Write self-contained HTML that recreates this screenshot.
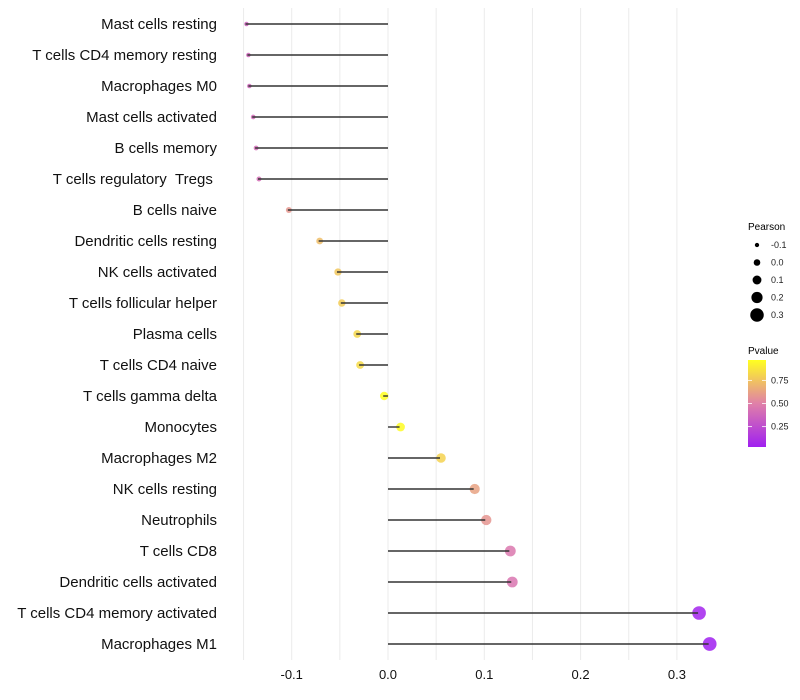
<!DOCTYPE html>
<html><head><meta charset="utf-8"><style>
body{margin:0;background:#fff;}
svg{display:block;font-family:"Liberation Sans",sans-serif;}
</style></head><body>
<svg id="chart" width="800" height="700" viewBox="0 0 800 700">
<defs><linearGradient id="pgrad" x1="0" y1="1" x2="0" y2="0">
<stop offset="0" stop-color="#a020f0"/><stop offset="0.5" stop-color="#e080a8"/><stop offset="1" stop-color="#ffff20"/>
</linearGradient></defs>
<g id="grid"></g>
<g id="points"></g>
<g id="marks"></g>
<g id="ylabels"></g>
<g id="xlabels"></g>
<g id="legend">
<text x="748" y="230" font-size="10">Pearson</text>
<text x="748" y="354" font-size="10">Pvalue</text>
<rect x="748" y="360" width="18" height="87" fill="url(#pgrad)"/>
</g>
</svg>
<script>
const categories = ["Mast cells resting","T cells CD4 memory resting","Macrophages M0","Mast cells activated","B cells memory","T cells regulatory\u00a0\u00a0Tregs\u00a0","B cells naive","Dendritic cells resting","NK cells activated","T cells follicular helper","Plasma cells","T cells CD4 naive","T cells gamma delta","Monocytes","Macrophages M2","NK cells resting","Neutrophils","T cells CD8","Dendritic cells activated","T cells CD4 memory activated","Macrophages M1"];
const pearson = [-0.148,-0.146,-0.145,-0.141,-0.138,-0.135,-0.104,-0.072,-0.053,-0.049,-0.033,-0.030,-0.005,0.012,0.054,0.089,0.101,0.126,0.128,0.322,0.333];
const pvalues = [0.35,0.36,0.36,0.38,0.39,0.40,0.58,0.72,0.76,0.78,0.82,0.83,0.97,0.96,0.80,0.62,0.57,0.45,0.44,0.03,0.01];
const xTicks = [-0.1,0.0,0.1,0.2,0.3];
const xTickLabels = ["-0.1","0.0","0.1","0.2","0.3"];
const xMinor = [-0.15,-0.05,0.05,0.15,0.25];
const sizeLegend = [-0.1,0.0,0.1,0.2,0.3];
const pvalTicks = [0.25,0.50,0.75];

const NS="http://www.w3.org/2000/svg";
const x = v => 388 + v*963;
const y = i => 24 + i*31;
const r = v => Math.sqrt(Math.max(2, 18 + 88*v));
const pY = p => 447 - (p-0.03)/(0.94)*87;
function mix(a,b,t){return a.map((c,i)=>Math.round(c+(b[i]-c)*t));}
function col(p){const t=Math.min(1,Math.max(0,(p-0.01)/0.96));
 const c = t<0.5? mix([160,32,240],[224,128,168],t/0.5) : mix([224,128,168],[255,255,32],(t-0.5)/0.5);
 return `rgb(${c[0]},${c[1]},${c[2]})`;}
function mk(tag,attrs,parent){const e=document.createElementNS(NS,tag);for(const k in attrs)e.setAttribute(k,attrs[k]);parent.appendChild(e);return e;}

const grid=document.getElementById('grid');
xTicks.concat(xMinor).forEach(v=>{
 const l=mk('line',{x1:x(v),x2:x(v),y1:8,y2:660,stroke:'#ebebeb','stroke-width':1},grid);
 
 
});
const xl=document.getElementById('xlabels');
xTicks.forEach((v,i)=>{
 const t=mk('text',{x:x(v),y:679,'font-size':13,'text-anchor':'middle',fill:'#111'},xl);
 t.textContent=xTickLabels[i];
 
 
});
const marks=document.getElementById('marks'), pts=document.getElementById('points'), yl=document.getElementById('ylabels');
categories.forEach((c,i)=>{
 const pt=mk('circle',{cx:x(pearson[i])+1,cy:y(i),r:r(pearson[i]),fill:col(pvalues[i]),'fill-opacity':0.85},pts);
 
 
 const seg=mk('line',{x1:x(0),x2:x(pearson[i]),y1:y(i),y2:y(i),stroke:'#333','stroke-width':1.4},marks);
 
 
 const t=mk('text',{x:217,y:y(i)+5,'font-size':15,'text-anchor':'end',fill:'#111'},yl);
 t.textContent=c;
 
 
});
const lg=document.getElementById('legend');
sizeLegend.forEach((v,i)=>{
 const cy=245+i*17.5;
 const cc=mk('circle',{cx:757,cy:cy,r:3.3+v*11.5,fill:'#000'},lg);
 
 
 const t=mk('text',{x:771,y:cy+3,'font-size':9,fill:'#222'},lg);
 t.textContent=v.toFixed(1);
 
 
});
pvalTicks.forEach(p=>{
 const yy=pY(p);
 const tk=mk('line',{x1:748,x2:752,y1:yy,y2:yy,stroke:'#fff','stroke-width':0.8},lg);
 
 
 const tk2=mk('line',{x1:762,x2:766,y1:yy,y2:yy,stroke:'#fff','stroke-width':0.8},lg);
 
 
 const t=mk('text',{x:771,y:yy+3,'font-size':9,fill:'#222'},lg);
 t.textContent=p.toFixed(2);
 
 
});
</script>
</body></html>
